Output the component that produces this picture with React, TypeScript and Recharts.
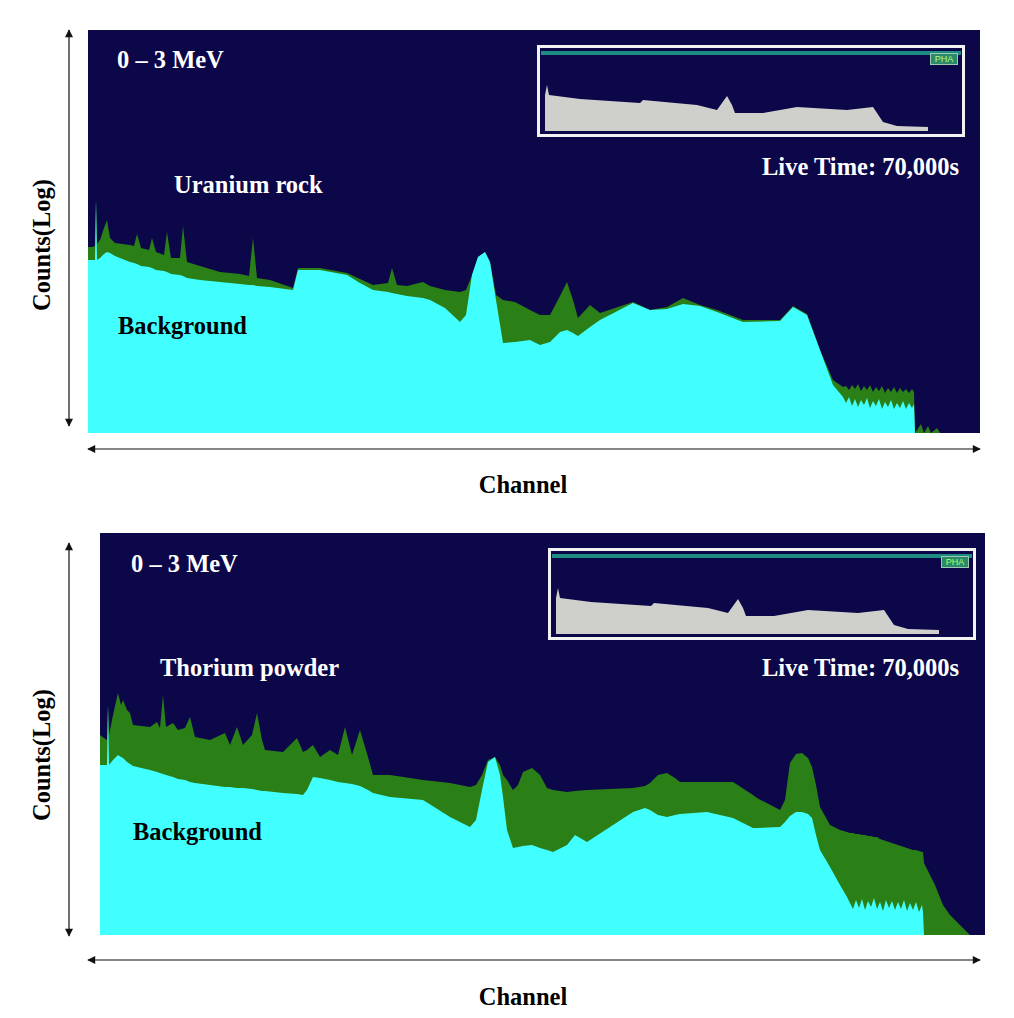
import { Area, AreaChart, XAxis, YAxis } from "recharts";

// upper panel: channel, log10 counts
const uChannels = [
  0, 4, 7, 8, 9, 12, 16, 19, 22, 27, 42, 46, 49, 53, 61, 64, 68, 76, 79, 83, 92, 95, 99, 112, 132, 152, 161, 165, 169,
  182, 205, 210, 232, 259, 272, 285, 300, 304, 309, 319, 335, 342, 357, 372, 378, 384, 390, 397, 402, 408, 415, 427,
  442, 452, 462, 472, 479, 485, 490, 502, 512, 545, 562, 579, 595, 612, 629, 655, 692, 705, 719, 732, 745, 755,
  758, 761, 764, 767, 770, 773, 776, 779, 782, 785, 788, 791, 794, 797, 800, 803, 806, 809, 812, 815, 818, 821, 824, 826,
  827, 833, 836, 840, 843, 849, 852, 892,
];
const uraniumRock = [
  1.86, 1.86, 1.87, 2.33, 1.89, 1.93, 2.05, 2.13, 1.95, 1.9, 1.88, 1.87, 1.99, 1.85, 1.83, 1.95, 1.81, 1.78, 2.01, 1.75,
  1.75, 2.07, 1.71, 1.67, 1.61, 1.59, 1.57, 1.95, 1.55, 1.53, 1.45, 1.65, 1.65, 1.6, 1.54, 1.48, 1.5, 1.65, 1.48, 1.47,
  1.51, 1.47, 1.43, 1.41, 1.43, 1.58, 1.76, 1.81, 1.71, 1.38, 1.33, 1.31, 1.23, 1.18, 1.18, 1.37, 1.51, 1.33, 1.15,
  1.28, 1.2, 1.31, 1.23, 1.26, 1.35, 1.28, 1.23, 1.13, 1.13, 1.27, 1.19, 0.83, 0.53, 0.46,
  0.47, 0.43, 0.48, 0.44, 0.49, 0.42, 0.47, 0.43, 0.48, 0.41, 0.46, 0.42, 0.47, 0.4, 0.45, 0.41, 0.46, 0.4, 0.45, 0.41,
  0.44, 0.4, 0.44, 0.41,
  0, 0.09, 0, 0.07, 0, 0.05, 0, 0,
];
const uraniumBackground = [
  1.73, 1.73, 1.73, 2.33, 1.73, 1.75, 1.79, 1.81, 1.8, 1.77, 1.71, 1.7, 1.69, 1.67, 1.66, 1.65, 1.63, 1.62, 1.61, 1.59,
  1.58, 1.57, 1.55, 1.53, 1.51, 1.49, 1.48, 1.48, 1.47, 1.46, 1.43, 1.63, 1.63, 1.58, 1.5, 1.43, 1.41, 1.4, 1.39, 1.37,
  1.35, 1.33, 1.25, 1.11, 1.18, 1.58, 1.76, 1.81, 1.71, 1.33, 0.9, 0.91, 0.93, 0.88, 0.91, 1.01, 1.03, 1.0, 0.97, 1.06,
  1.13, 1.3, 1.23, 1.24, 1.29, 1.27, 1.21, 1.11, 1.12, 1.26, 1.18, 0.83, 0.48, 0.36,
  0.3, 0.36, 0.27, 0.34, 0.26, 0.33, 0.28, 0.35, 0.25, 0.32, 0.27, 0.34, 0.24, 0.31, 0.26, 0.33, 0.24, 0.3, 0.25, 0.32,
  0.24, 0.3, 0.25, 0.29,
  0, 0, 0, 0, 0, 0, 0, 0,
];

// lower panel: channel, log10 counts
const tChannels = [
  0, 4, 7, 8, 9, 13, 18, 21, 23, 27, 30, 33, 50, 57, 60, 63, 66, 73, 78, 85, 90, 95, 110, 125, 130, 137, 143, 152, 157,
  162, 165, 183, 197, 203, 207, 213, 220, 230, 238, 245, 252, 260, 268, 273, 290, 323, 350, 370, 376, 382, 388, 395,
  400, 403, 407, 413, 418, 423, 432, 440, 447, 453, 467, 475, 487, 510, 533, 545, 550, 558, 567, 575, 580, 607, 633,
  653, 657, 680, 685, 690, 696, 702, 708, 712, 716, 720, 730, 740, 747,
  750, 753, 756, 759, 762, 765, 768, 771, 774, 777, 780, 783, 786, 789, 792, 795, 798, 801, 804, 807, 810, 813, 816, 819,
  822, 823,
  824, 827, 835, 843, 850, 857, 863, 870, 885,
];
const thoriumPowder = [
  2.0, 1.97, 1.95, 2.3, 2.0, 2.2, 2.42, 2.3, 2.35, 2.25, 2.22, 2.1, 2.08, 2.13, 2.07, 2.4, 2.08, 2.12, 2.05, 2.07, 2.18,
  1.98, 1.95, 2.02, 1.9, 2.08, 1.9, 2.0, 2.22, 1.95, 1.85, 1.83, 1.97, 1.83, 1.85, 1.9, 1.78, 1.85, 1.8, 2.08, 1.8, 2.05,
  1.78, 1.6, 1.6, 1.55, 1.52, 1.48, 1.5, 1.6, 1.75, 1.78, 1.7, 1.6, 1.55, 1.45, 1.5, 1.63, 1.67, 1.6, 1.47, 1.45, 1.43,
  1.44, 1.45, 1.46, 1.47, 1.49, 1.52, 1.6, 1.62, 1.57, 1.53, 1.53, 1.53, 1.4, 1.37, 1.25, 1.35, 1.72, 1.81, 1.82, 1.77,
  1.68, 1.5, 1.28, 1.1, 1.05, 1.03,
  1.02, 1.02, 1.01, 1.01, 1.0, 1.0, 0.99, 0.99, 0.98, 0.98, 0.96, 0.95, 0.94, 0.93, 0.92, 0.91, 0.9, 0.89, 0.88, 0.87,
  0.86, 0.85, 0.85, 0.84, 0.83, 0.83,
  0.72, 0.66, 0.5, 0.3, 0.2, 0.13, 0.07, 0, 0,
];
const thoriumBackground = [
  1.7, 1.7, 1.7, 2.3, 1.7, 1.75, 1.8, 1.78, 1.77, 1.73, 1.71, 1.69, 1.65, 1.63, 1.62, 1.61, 1.6, 1.58, 1.56, 1.55, 1.53,
  1.52, 1.5, 1.48, 1.48, 1.47, 1.47, 1.46, 1.45, 1.44, 1.44, 1.42, 1.41, 1.4, 1.45, 1.58, 1.57, 1.55, 1.53, 1.52, 1.51,
  1.49, 1.45, 1.42, 1.38, 1.35, 1.18, 1.08, 1.15, 1.45, 1.73, 1.78, 1.6, 1.38, 1.05, 0.87, 0.88, 0.89, 0.9, 0.87, 0.85,
  0.83, 0.9, 1.0, 0.93, 1.08, 1.23, 1.27, 1.25, 1.2, 1.18, 1.2, 1.21, 1.23, 1.17, 1.07, 1.07, 1.08, 1.13, 1.19, 1.23,
  1.23, 1.21, 1.17, 1.0, 0.85, 0.68, 0.5, 0.38,
  0.32, 0.26, 0.35, 0.27, 0.36, 0.25, 0.34, 0.28, 0.37, 0.26, 0.33, 0.24, 0.35, 0.27, 0.34, 0.25, 0.33, 0.26, 0.35, 0.24,
  0.32, 0.25, 0.33, 0.23, 0.3, 0.23,
  0, 0, 0, 0, 0, 0, 0, 0, 0,
];

// PHA preview (same in both insets)
const insetChannels = [4, 6, 8, 39, 99, 102, 156, 176, 181, 186, 191, 194, 222, 256, 306, 332, 342, 356, 387];
const insetCounts = [36, 46, 36, 32, 28, 31, 26, 21, 28, 35, 26, 18, 18, 24, 21, 24, 9, 5, 4];

const NAVY = "#0c0749";
const GREEN = "#2a7f16";
const CYAN = "#42ffff";
const FONT = "'Liberation Serif', 'Times New Roman', serif";

const uData = uChannels.map((ch, i) => ({ ch, source: uraniumRock[i], bg: uraniumBackground[i] }));
const tData = tChannels.map((ch, i) => ({ ch, source: thoriumPowder[i], bg: thoriumBackground[i] }));
const insetData = insetChannels.map((ch, i) => ({ ch, counts: insetCounts[i] }));

function Spectrum({ data, left, top, width, height, maxLog }: any) {
  return (
    <div style={{ position: "absolute", left, top, width, height, background: NAVY }}>
      <AreaChart width={width} height={height} data={data} margin={{ top: 0, right: 0, bottom: 0, left: 0 }}>
        <XAxis dataKey="ch" type="number" domain={[0, width]} hide />
        <YAxis type="number" domain={[0, maxLog]} hide />
        <Area type="linear" dataKey="source" stroke="none" fill={GREEN} fillOpacity={1} isAnimationActive={false} />
        <Area type="linear" dataKey="bg" stroke="none" fill={CYAN} fillOpacity={1} isAnimationActive={false} />
      </AreaChart>
    </div>
  );
}

function Inset({ left, top }: { left: number; top: number }) {
  return (
    <div
      style={{
        position: "absolute",
        left,
        top,
        width: 422,
        height: 86,
        border: "3px solid #f2f2f2",
        background: NAVY,
      }}
    >
      <div style={{ position: "absolute", left: 1, top: 3, width: 420, height: 4, background: "#1e8c82" }} />
      <div
        style={{
          position: "absolute",
          left: 390,
          top: 5,
          width: 26,
          height: 10,
          background: "#2a8a6a",
          border: "1px solid #a0c8b0",
          color: "#b4ff6a",
          fontFamily: "Arial, sans-serif",
          fontSize: 9,
          lineHeight: "10px",
          textAlign: "center",
        }}
      >
        PHA
      </div>
      <div style={{ position: "absolute", left: 1, top: 9 }}>
        <AreaChart width={420} height={74} data={insetData} margin={{ top: 0, right: 0, bottom: 0, left: 0 }}>
          <XAxis dataKey="ch" type="number" domain={[0, 420]} hide />
          <YAxis type="number" domain={[0, 74]} hide />
          <Area type="linear" dataKey="counts" stroke="none" fill="#cfd0cb" fillOpacity={1} isAnimationActive={false} />
        </AreaChart>
      </div>
    </div>
  );
}

function Labels() {
  const w = { fill: "#fff", fontFamily: FONT, fontWeight: 700, fontSize: 24.5 } as const;
  const b = { fill: "#000", fontFamily: FONT, fontWeight: 700, fontSize: 24.5 } as const;
  return (
    <svg width={1014} height={1018} style={{ position: "absolute", left: 0, top: 0, pointerEvents: "none" }}>
      <defs>
        <marker id="ah" viewBox="0 0 10 10" refX="9" refY="5" markerWidth="10" markerHeight="8" orient="auto-start-reverse" markerUnits="userSpaceOnUse">
          <path d="M0,0 L10,5 L0,10 z" fill="#111" />
        </marker>
      </defs>
      {/* upper panel */}
      <line x1={69} y1={30} x2={69} y2={426} stroke="#111" strokeWidth={1.2} markerStart="url(#ah)" markerEnd="url(#ah)" />
      <line x1={88} y1={449} x2={980} y2={449} stroke="#111" strokeWidth={1.2} markerStart="url(#ah)" markerEnd="url(#ah)" />
      <text x={117} y={68} {...w}>0 – 3 MeV</text>
      <text x={174} y={193} {...w}>Uranium rock</text>
      <text x={762} y={175} {...w}>Live Time: 70,000s</text>
      <text x={118} y={334} {...b}>Background</text>
      <text x={523} y={493} textAnchor="middle" {...b}>Channel</text>
      <text x={50} y={245} textAnchor="middle" transform="rotate(-90 50 245)" {...b}>Counts(Log)</text>
      {/* lower panel */}
      <line x1={69} y1={543} x2={69} y2={936} stroke="#111" strokeWidth={1.2} markerStart="url(#ah)" markerEnd="url(#ah)" />
      <line x1={88} y1={960} x2={980} y2={960} stroke="#111" strokeWidth={1.2} markerStart="url(#ah)" markerEnd="url(#ah)" />
      <text x={131} y={572} {...w}>0 – 3 MeV</text>
      <text x={160} y={676} {...w}>Thorium powder</text>
      <text x={762} y={676} {...w}>Live Time: 70,000s</text>
      <text x={133} y={840} {...b}>Background</text>
      <text x={523} y={1005} textAnchor="middle" {...b}>Channel</text>
      <text x={50} y={755} textAnchor="middle" transform="rotate(-90 50 755)" {...b}>Counts(Log)</text>
    </svg>
  );
}

export default function App() {
  return (
    <div style={{ position: "absolute", left: 0, top: 0, width: 1014, height: 1018, background: "#fff", overflow: "hidden" }}>
      <Spectrum data={uData} left={88} top={30} width={892} height={403} maxLog={4.03} />
      <Spectrum data={tData} left={100} top={533} width={885} height={402} maxLog={4.02} />
      <Inset left={537} top={45} />
      <Inset left={548} top={548} />
      <Labels />
    </div>
  );
}
